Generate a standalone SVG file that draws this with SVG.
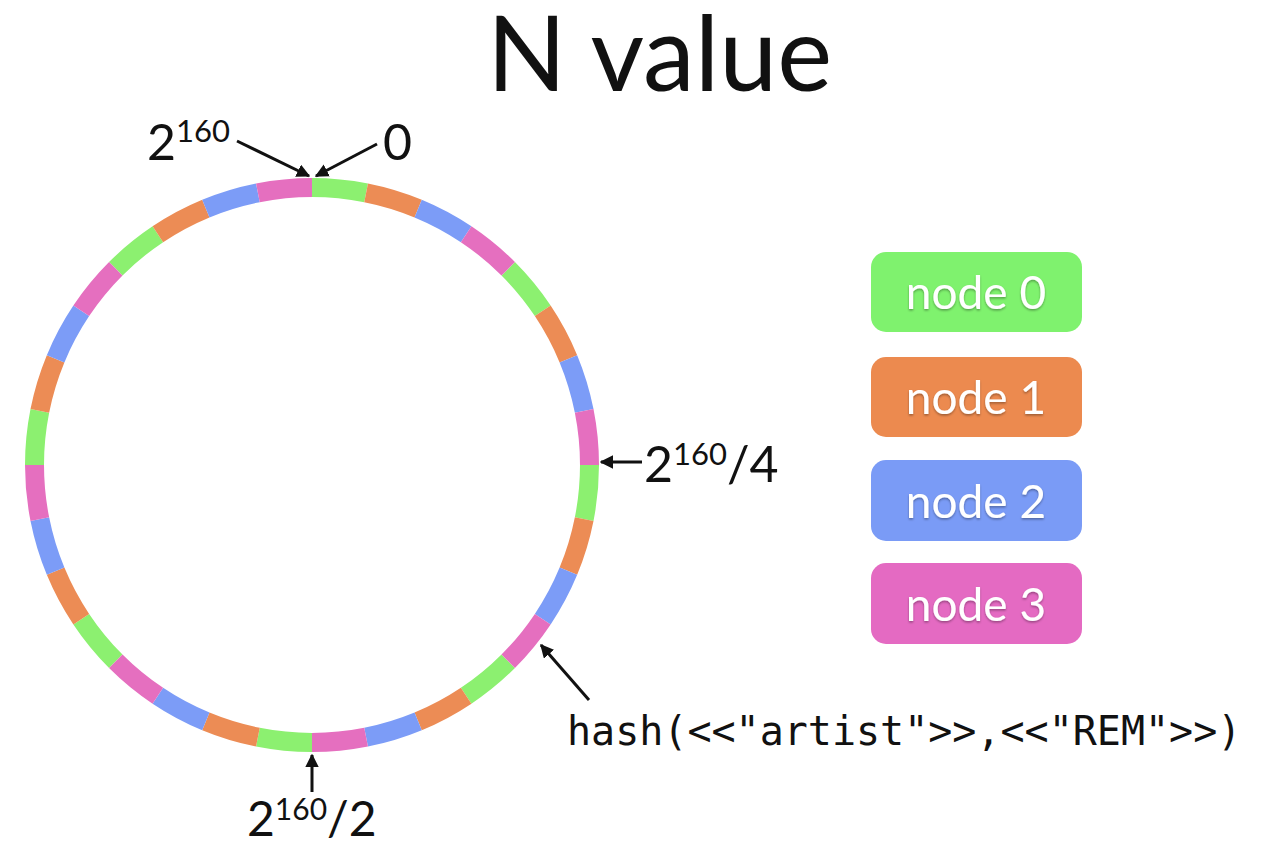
<svg xmlns="http://www.w3.org/2000/svg" width="1265" height="845" viewBox="0 0 1265 845">
  <defs>
    <style>
      .label { font-family: Lato, "Open Sans", "DejaVu Sans", sans-serif; fill: #111; }
      .title { font-family: Lato, "Open Sans", "DejaVu Sans", sans-serif; font-size: 104px; fill: #111; }
      .mono { font-family: "DejaVu Sans Mono", "Liberation Mono", monospace; font-size: 40px; fill: #111; }
      .node-text { font-family: Lato, "Open Sans", "DejaVu Sans", sans-serif; font-size: 46px; fill: #fff; text-anchor: middle; filter: url(#txtShadow); }
      .seg { fill: none; stroke-width: 19; stroke-dasharray: 1 3; }
      .ptr { stroke: #111; stroke-width: 3; fill: none; marker-end: url(#head); }
    </style>
    <marker id="head" viewBox="0 0 10 10" refX="9" refY="5" markerWidth="4.5" markerHeight="4.5" orient="auto" markerUnits="strokeWidth">
      <path d="M0,0 L10,5 L0,10 z" fill="#111"/>
    </marker>
    <filter id="txtShadow" x="-10%" y="-20%" width="120%" height="150%">
      <feDropShadow dx="0" dy="1.5" stdDeviation="1.2" flood-color="#000" flood-opacity="0.35"/>
    </filter>
  </defs>

  <rect width="1265" height="845" fill="#fff"/>

  <text class="title" x="487" y="91">N value</text>

  <!-- hash ring: 32 equal arcs, colours cycle node 0..3 clockwise from the top -->
  <g id="ring">
    <circle class="seg" cx="312" cy="465" r="277.5" pathLength="32" stroke="#8CF070" stroke-dashoffset="0"/>
    <circle class="seg" cx="312" cy="465" r="277.5" pathLength="32" stroke="#EC8C55" stroke-dashoffset="-1"/>
    <circle class="seg" cx="312" cy="465" r="277.5" pathLength="32" stroke="#7C9CF7" stroke-dashoffset="-2"/>
    <circle class="seg" cx="312" cy="465" r="277.5" pathLength="32" stroke="#E56FBF" stroke-dashoffset="-3"/>
  </g>

  <!-- legend -->
  <g id="node0">
    <rect x="871" y="252" width="211" height="80" rx="15" fill="#7FF26E"/>
    <text class="node-text" x="976" y="309">node 0</text>
  </g>
  <g id="node1">
    <rect x="871" y="357" width="211" height="80" rx="15" fill="#EC8A4F"/>
    <text class="node-text" x="976" y="414">node 1</text>
  </g>
  <g id="node2">
    <rect x="871" y="460" width="211" height="81" rx="15" fill="#7A9BF6"/>
    <text class="node-text" x="976" y="518">node 2</text>
  </g>
  <g id="node3">
    <rect x="871" y="563" width="211" height="81" rx="15" fill="#E46AC2"/>
    <text class="node-text" x="976" y="621">node 3</text>
  </g>

  <!-- position labels -->
  <text class="label" x="147" y="160" font-size="50">2<tspan font-size="31" dy="-18">160</tspan></text>
  <text class="label" x="383" y="160" font-size="50">0</text>
  <text class="label" x="644" y="482" font-size="50">2<tspan font-size="31" dy="-17">160</tspan><tspan dy="17">/4</tspan></text>
  <text class="label" x="247" y="836" font-size="48">2<tspan font-size="30" dy="-16">160</tspan><tspan dy="16">/2</tspan></text>
  <text class="mono" x="567" y="745">hash(&lt;&lt;"artist"&gt;&gt;,&lt;&lt;"REM"&gt;&gt;)</text>

  <!-- pointers onto the ring -->
  <g id="connectors">
    <line class="ptr" x1="237" y1="141" x2="309" y2="176"/>
    <line class="ptr" x1="377" y1="144" x2="316" y2="176"/>
    <line class="ptr" x1="642" y1="462" x2="601" y2="462"/>
    <line class="ptr" x1="312" y1="792" x2="312" y2="755"/>
    <line class="ptr" x1="589" y1="700" x2="541" y2="645"/>
  </g>
</svg>
